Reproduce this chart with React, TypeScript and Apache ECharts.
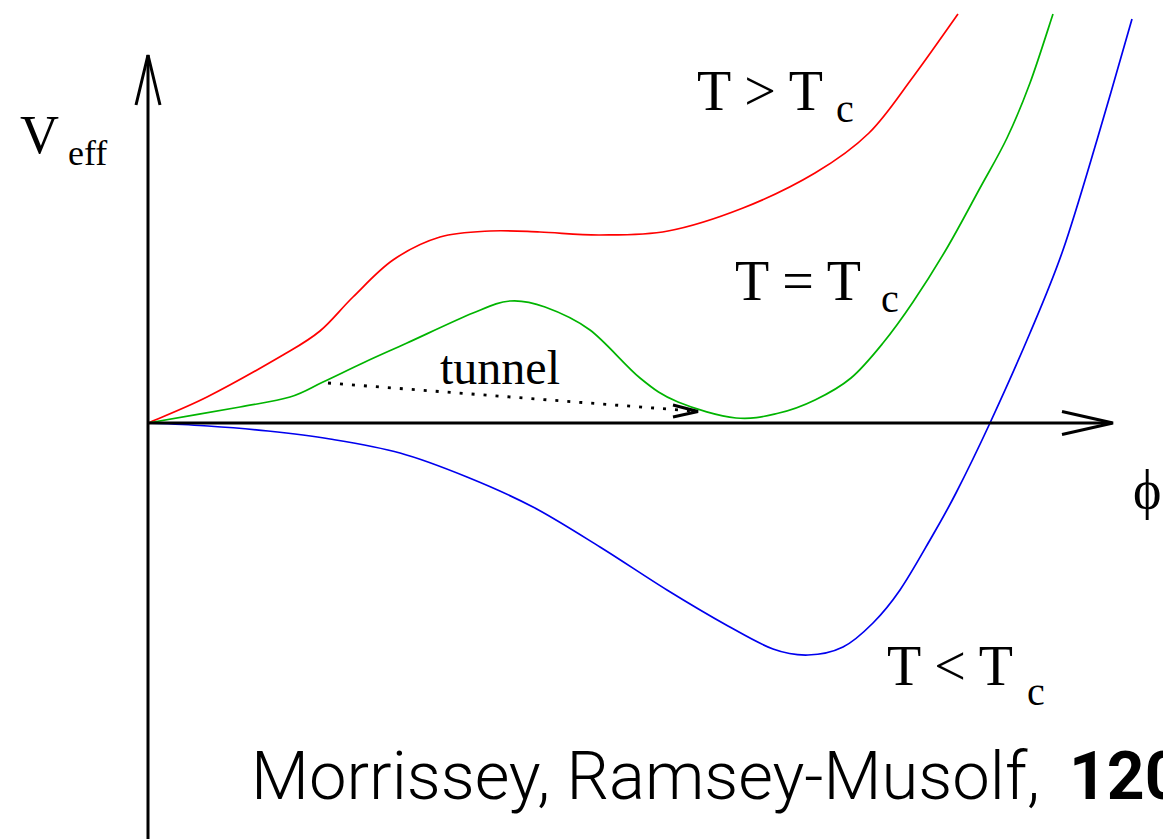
import React, { useEffect, useRef } from "react";
import * as echarts from "echarts";

// Effective potential V_eff(phi) for three temperatures (arbitrary units).
const redAbove: [number, number][] = [
  [0, 0], [0.59, 0.26], [1.35, 0.68], [1.72, 0.92], [2.05, 1.26],
  [2.45, 1.63], [2.92, 1.86], [3.42, 1.92], [3.92, 1.91], [4.52, 1.88],
  [5.2, 1.92], [5.95, 2.15], [6.67, 2.5], [7.21, 2.9], [7.65, 3.46], [8.1, 4.09],
];

const greenCritical: [number, number][] = [
  [0, 0], [0.92, 0.16], [1.42, 0.26], [1.75, 0.41], [2.17, 0.61], [2.59, 0.8],
  [3.25, 1.1], [3.62, 1.22], [3.97, 1.16], [4.42, 0.93], [4.92, 0.45],
  [5.3, 0.21], [5.88, 0.05], [6.31, 0.1], [6.67, 0.23], [7.03, 0.45],
  [7.35, 0.8], [7.65, 1.21], [7.99, 1.75], [8.32, 2.35], [8.59, 2.85],
  [8.82, 3.4], [9.05, 4.09],
];

const blueBelow: [number, number][] = [
  [0, 0], [0.6, -0.03], [1.2, -0.08], [1.82, -0.16], [2.52, -0.3],
  [3.19, -0.54], [3.85, -0.84], [4.52, -1.24], [5.19, -1.67], [5.8, -2.03],
  [6.25, -2.26], [6.6, -2.32], [6.95, -2.24], [7.25, -2.0], [7.52, -1.67],
  [7.82, -1.17], [8.08, -0.7], [8.42, 0], [8.82, 0.9], [9.15, 1.73],
  [9.49, 2.83], [9.84, 4.04],
];

// Hand-drawn axes with open arrow heads
const vAxisLine: [number, number][] = [[0, -4.3], [0, 3.68]];
const vAxisHead: [number, number][] = [[-0.12, 3.18], [0, 3.68], [0.12, 3.18]];
const phiAxisLine: [number, number][] = [[0, 0], [9.64, 0]];
const phiAxisHead: [number, number][] = [[9.14, 0.115], [9.65, 0], [9.14, -0.115]];

// Tunnelling path from the false vacuum region toward the true minimum
const tunnelPath: [number, number][] = [[1.8, 0.4], [5.45, 0.12]];
const tunnelHead: [number, number][] = [[5.25, 0.18], [5.5, 0.115], [5.25, 0.06]];

const SERIF = '"Liberation Serif", "Times New Roman", serif';
const SANS = 'Roboto, "Liberation Sans", sans-serif';

// Catmull-Rom spline through the projected data points, drawn as one path
function splinePath(pts: number[][]) {
  let d = `M${pts[0][0]},${pts[0][1]}`;
  for (let i = 0; i < pts.length - 1; i++) {
    const p0 = pts[Math.max(0, i - 1)];
    const p1 = pts[i];
    const p2 = pts[i + 1];
    const p3 = pts[Math.min(pts.length - 1, i + 2)];
    const c1x = p1[0] + (p2[0] - p0[0]) / 6;
    const c1y = p1[1] + (p2[1] - p0[1]) / 6;
    const c2x = p2[0] - (p3[0] - p1[0]) / 6;
    const c2y = p2[1] - (p3[1] - p1[1]) / 6;
    d += ` C${c1x},${c1y} ${c2x},${c2y} ${p2[0]},${p2[1]}`;
  }
  return d;
}

function curveSeries(data: [number, number][], color: string) {
  return {
    type: "custom",
    coordinateSystem: "cartesian2d",
    data: [0],
    silent: true,
    clip: false,
    renderItem: (_params: any, api: any) => {
      const pts = data.map((p) => api.coord(p));
      return {
        type: "path",
        shape: { pathData: splinePath(pts) },
        style: { fill: "none", stroke: color, lineWidth: 1.7 },
      };
    },
  };
}

function lineSeries(data: [number, number][], color: string, width: number, style: any = {}) {
  return {
    type: "line",
    data,
    showSymbol: false,
    symbol: "none",
    silent: true,
    lineStyle: { color, width, ...style },
  };
}

function label(text: string, x: number, y: number, size: number, family = SERIF, weight: any = "normal") {
  return {
    type: "text",
    x,
    y,
    silent: true,
    style: {
      text,
      fontSize: size,
      fontFamily: family,
      fontWeight: weight,
      fill: "#000",
      verticalAlign: "middle",
      align: "left",
    },
  };
}

export default function App() {
  const ref = useRef<HTMLDivElement>(null);

  useEffect(() => {
    if (!ref.current) return;
    const chart = echarts.init(ref.current, null, { renderer: "svg" });
    chart.setOption({
      animation: false,
      backgroundColor: "#fff",
      grid: { left: 0, right: 0, top: 0, bottom: 0 },
      xAxis: { type: "value", min: -1.48, max: 10.15, show: false },
      yAxis: { type: "value", min: -4.16, max: 4.23, show: false },
      series: [
        lineSeries(vAxisLine, "#000", 3),
        lineSeries(vAxisHead, "#000", 3, { join: "miter" }),
        lineSeries(phiAxisLine, "#000", 3),
        lineSeries(phiAxisHead, "#000", 3, { join: "miter" }),
        lineSeries(tunnelPath, "#000", 2.8, { type: [3, 9], cap: "butt" }),
        lineSeries(tunnelHead, "#000", 3, { join: "miter" }),
        curveSeries(redAbove, "#ff0000"),
        curveSeries(greenCritical, "#00b400"),
        curveSeries(blueBelow, "#0000ee"),
      ],
      graphic: [
        label("V", 20, 135, 54),
        label("eff", 68, 153, 36),
        label("T > T", 697, 91, 56),
        label("c", 836, 108, 40),
        label("T = T", 735, 281, 56),
        label("c", 881, 298, 40),
        label("T < T", 887, 666, 56),
        label("c", 1027, 691, 40),
        label("tunnel", 440, 367, 48),
        label("ϕ", 1133, 490, 54),
        label("Morrissey, Ramsey-Musolf,", 251, 776, 67, SANS, 300),
        label("120", 1069, 776, 66, SANS, "bold"),
      ],
    });
    return () => chart.dispose();
  }, []);

  return (
    <div
      ref={ref}
      style={{ position: "fixed", left: 0, top: 0, width: 1163, height: 839, background: "#fff" }}
    />
  );
}
